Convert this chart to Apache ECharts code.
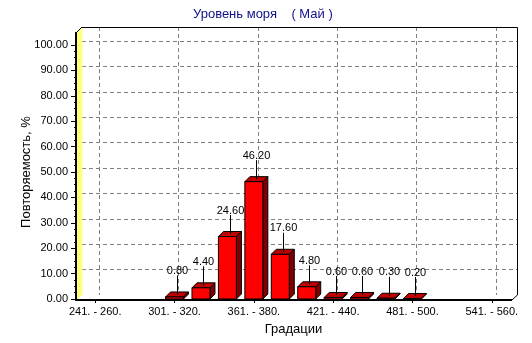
<!DOCTYPE html>
<html>
<head>
<meta charset="utf-8">
<script src="https://cdn.jsdelivr.net/npm/echarts@6/dist/echarts.min.js"></script>
<style>
  html, body { margin: 0; padding: 0; background: #ffffff; }
  #chart { width: 532px; height: 343px; }
</style>
</head>
<body>
<div id="chart"></div>
<script>
// Sea level gradations and their frequency (%)
const categories = [
  '241. - 260.', '261. - 280.', '281. - 300.', '301. - 320.',
  '321. - 340.', '341. - 360.', '361. - 380.', '381. - 400.',
  '401. - 420.', '421. - 440.', '441. - 460.', '461. - 480.',
  '481. - 500.', '501. - 520.', '521. - 540.', '541. - 560.'
];
const frequencies = [0, 0, 0, 0.8, 4.4, 24.6, 46.2, 17.6, 4.8, 0.6, 0.6, 0.3, 0.2, 0, 0, 0];

const titleText = 'Уровень моря    ( Май )';
const yAxisName = 'Повторяемость, %';
const xAxisName = 'Градации';
const yMin = 0, yMax = 100, yStep = 10;

// Front plane of the 3D box (value scale lives here)
const FRONT = { left: 82, top: 45, width: 423, height: 254 };
const BOX_DEPTH = 5;      // depth of walls and floor
const GRID_SHIFT = 4;     // back-wall grid offset
const BAR_DEPTH = 5;
const BAR_RATIO = 0.68;
const LEADER = 19;
const FONT = '"Liberation Sans", Arial, sans-serif';

const band = FRONT.width / categories.length;

// Box corners
const boxLeft = 77, boxRight = 512, boxTopFront = 32, floorFront = 300;
const backLeft = boxLeft + BOX_DEPTH, backRight = boxRight + BOX_DEPTH;
const backTop = boxTopFront - BOX_DEPTH, floorBack = floorFront - BOX_DEPTH;

const chart = echarts.init(document.getElementById('chart'), null, { renderer: 'canvas' });

function renderBar(params, api) {
  const v = api.value(1);
  if (!(v > 0)) return { type: 'group', children: [] };
  const c = api.value(0);
  const topPt = api.coord([c, v]);
  const basePt = api.coord([c, 0]);
  const bw = api.size([1, 0])[0] * BAR_RATIO;
  const l = topPt[0] - bw / 2, r = topPt[0] + bw / 2;
  const t = topPt[1], b = basePt[1];
  const d = BAR_DEPTH;
  const mx = Math.round(topPt[0] + d / 2) + 0.5;
  const my = t - d / 2;
  return {
    type: 'group',
    children: [
      { type: 'polygon', shape: { points: [[r, t], [r + d, t - d], [r + d, b - d], [r, b]] },
        style: { fill: '#800000', stroke: '#000000', lineWidth: 1 } },
      { type: 'polygon', shape: { points: [[l, t], [l + d, t - d], [r + d, t - d], [r, t]] },
        style: { fill: '#c00000', stroke: '#000000', lineWidth: 1 } },
      { type: 'rect', shape: { x: l, y: t, width: bw, height: b - t },
        style: { fill: '#ff0000', stroke: '#000000', lineWidth: 1 } },
      { type: 'line', shape: { x1: mx, y1: my, x2: mx, y2: my - LEADER },
        style: { stroke: '#000000', lineWidth: 1 } },
      { type: 'text', x: mx, y: my - LEADER + 1,
        style: { text: v.toFixed(2), align: 'center', verticalAlign: 'bottom',
                 font: '11px ' + FONT, fill: '#000000' } }
    ]
  };
}

const option = {
  animation: false,
  backgroundColor: '#ffffff',
  title: {
    text: titleText,
    left: 193,
    top: 8,
    padding: 0,
    textStyle: { color: '#10108a', fontFamily: FONT, fontSize: 13, fontWeight: 'normal' }
  },
  grid: [
    // front plane: bars and axes
    { left: FRONT.left, top: FRONT.top, width: FRONT.width, height: FRONT.height },
    // back wall: horizontal grid lines
    { left: backLeft, top: FRONT.top - GRID_SHIFT, width: backRight - backLeft, height: FRONT.height },
    // back wall: vertical grid lines through category centres
    { left: FRONT.left + band / 2 + GRID_SHIFT, top: backTop,
      width: band * (categories.length - 1), height: floorBack - backTop }
  ],
  xAxis: [
    {
      gridIndex: 0, type: 'category', data: categories,
      axisLine: { show: false },
      axisTick: { show: true, alignWithLabel: true, length: 4, lineStyle: { color: '#000000' } },
      axisLabel: { interval: 2, margin: 7, color: '#000000', fontFamily: FONT, fontSize: 11 },
      splitLine: { show: false },
      name: xAxisName, nameLocation: 'middle', nameGap: 24, nameMoveOverlap: false,
      nameTextStyle: { color: '#000000', fontFamily: FONT, fontSize: 13 }
    },
    { gridIndex: 1, type: 'category', data: categories, show: false },
    {
      gridIndex: 2, type: 'category', data: categories, boundaryGap: false,
      axisLine: { show: false }, axisTick: { show: false }, axisLabel: { show: false },
      splitLine: { show: true, interval: 2, lineStyle: { color: '#808080', type: [4, 3], width: 1 } }
    }
  ],
  yAxis: [
    {
      gridIndex: 0, type: 'value', min: yMin, max: yMax, interval: yStep, offset: 6,
      axisLine: { show: false },
      axisTick: { show: true, length: 5, lineStyle: { color: '#000000' } },
      minorTick: { show: true, splitNumber: 4, length: 2, lineStyle: { color: '#000000' } },
      axisLabel: { margin: 8, color: '#000000', fontFamily: FONT, fontSize: 11,
                   formatter: (v) => v.toFixed(2) },
      splitLine: { show: false },
      name: yAxisName, nameLocation: 'middle', nameGap: 43, nameRotate: 90, nameMoveOverlap: false,
      nameTextStyle: { color: '#000000', fontFamily: FONT, fontSize: 13 }
    },
    {
      gridIndex: 1, type: 'value', min: yMin, max: yMax, interval: yStep,
      axisLine: { show: false }, axisTick: { show: false }, axisLabel: { show: false },
      splitLine: { show: true, lineStyle: { color: '#808080', type: [4, 3], width: 1 } }
    },
    { gridIndex: 2, type: 'value', min: 0, max: 1, show: false }
  ],
  graphic: [
    // left wall
    { type: 'polygon', z: 1, silent: true,
      shape: { points: [[boxLeft, boxTopFront], [backLeft, backTop], [backLeft, floorBack], [boxLeft, floorFront]] },
      style: { fill: '#ffff80', stroke: '#ffff80', lineWidth: 1 } },
    // floor
    { type: 'polygon', z: 1, silent: true,
      shape: { points: [[boxLeft, floorFront], [backLeft, floorBack], [backRight, floorBack], [boxRight, floorFront]] },
      style: { fill: '#ffffff', stroke: null } },
    // back wall top and right edges
    { type: 'polyline', z: 10, silent: true,
      shape: { points: [[backLeft, backTop + 0.5], [backRight + 0.5, backTop + 0.5], [backRight + 0.5, floorBack]] },
      style: { stroke: '#000000', lineWidth: 1, fill: null } },
    // top edge of left wall
    { type: 'line', z: 10, silent: true,
      shape: { x1: boxLeft, y1: boxTopFront, x2: backLeft, y2: backTop },
      style: { stroke: '#000000', lineWidth: 1 } },
    // front edge of left wall (value axis line)
    { type: 'line', z: 10, silent: true,
      shape: { x1: boxLeft - 1, y1: boxTopFront, x2: boxLeft - 1, y2: floorFront + 1 },
      style: { stroke: '#000000', lineWidth: 2 } },
    // front edge of floor
    { type: 'line', z: 10, silent: true,
      shape: { x1: boxLeft - 2, y1: floorFront, x2: boxRight, y2: floorFront },
      style: { stroke: '#000000', lineWidth: 2 } },
    // right edge of floor
    { type: 'line', z: 10, silent: true,
      shape: { x1: boxRight, y1: floorFront, x2: backRight + 0.5, y2: floorBack },
      style: { stroke: '#000000', lineWidth: 1 } }
  ],
  series: [
    {
      type: 'custom',
      xAxisIndex: 0, yAxisIndex: 0,
      data: categories.map((c, i) => [i, frequencies[i]]),
      encode: { x: 0, y: 1 },
      renderItem: renderBar,
      z: 5
    }
  ]
};

chart.setOption(option);
</script>
</body>
</html>
